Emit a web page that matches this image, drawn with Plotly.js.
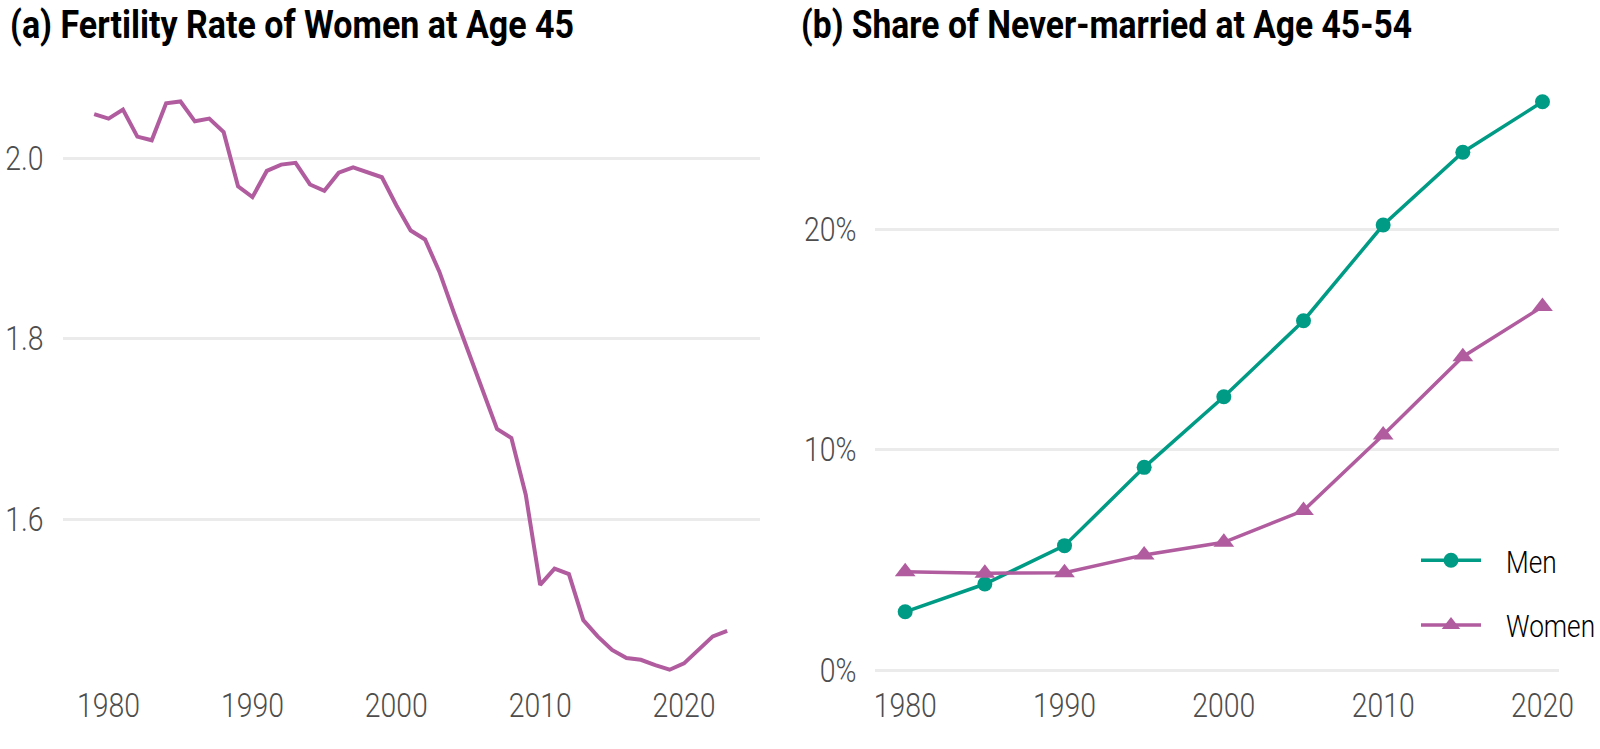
<!DOCTYPE html>
<html>
<head>
<meta charset="utf-8">
<script src="https://cdn.plot.ly/plotly-3.0.1.min.js"></script>
<style>html,body{margin:0;padding:0;background:#fff;}#chart{width:1600px;height:749px;}</style>
</head>
<body>
<div id="chart"></div>
<script>
// Panel (a): fertility rate of women at age 45
const yearsA = [1979,1980,1981,1982,1983,1984,1985,1986,1987,1988,
                1989,1990,1991,1992,1993,1994,1995,1996,1997,1998,
                1999,2000,2001,2002,2003,2004,2005,2006,2007,2008,
                2009,2010,2011,2012,2013,2014,2015,2016,2017,2018,
                2019,2020,2021,2022,2023];
const fertility = [2.049,2.044,2.054,2.024,2.020,2.061,2.063,2.041,2.044,2.029,
                   1.969,1.957,1.986,1.993,1.995,1.971,1.964,1.984,1.990,1.984,
                   1.979,1.948,1.920,1.910,1.874,1.829,1.787,1.742,1.700,1.690,
                   1.627,1.527,1.545,1.539,1.488,1.470,1.455,1.446,1.444,1.438,
                   1.433,1.440,1.455,1.470,1.476];
// Panel (b): share never married at age 45-54 (%)
const yearsB = [1980,1985,1990,1995,2000,2005,2010,2015,2020];
const menShare = [2.64,3.90,5.64,9.19,12.39,15.84,20.18,23.48,25.77];
const womenShare = [4.46,4.39,4.41,5.22,5.79,7.23,10.66,14.21,16.48];
const xTicks = [1980,1990,2000,2010,2020];
const yTicksA = [1.6,1.8,2.0];
const yTicksB = [0,10,20];
const yTickTextB = ['0%','10%','20%'];
const titleA = '(a) Fertility Rate of Women at Age 45';
const titleB = '(b) Share of Never-married at Age 45-54';

const purple = '#B05C9E';
const teal = '#009B85';
const tickFont = {family:'Roboto, "Open Sans", sans-serif', size:33, color:'#4d4d4d', weight:300};
const titleFont = {family:'Roboto, sans-serif', size:38, color:'#000', weight:'bold'};

const H = 749, W = 1600;
const yBottom = 681, yTop = 73;
const yDom = [(H-yBottom)/H, (H-yTop)/H];
// scales: panel a -> 902 px per unit with 2.0 at y=158.3; panel b -> 22.05 px per % with 0 at y=670
const rangeA = [2.0 - (yBottom-158.3)/902, 2.0 + (158.3-yTop)/902];
const rangeB = [(670-yBottom)/22.05, (670-yTop)/22.05];

const traces = [
  {x: yearsA, y: fertility, type:'scatter', mode:'lines', xaxis:'x', yaxis:'y',
   line:{color:purple, width:4}, showlegend:false},
  {x: yearsB, y: menShare, type:'scatter', mode:'lines+markers', name:'Men', xaxis:'x2', yaxis:'y2',
   line:{color:teal, width:3.5}, marker:{symbol:'circle', size:15, color:teal}, legendgroup:'m'},
  {x: yearsB, y: womenShare, type:'scatter', mode:'lines+markers', name:'Women', xaxis:'x2', yaxis:'y2',
   line:{color:purple, width:3.5}, marker:{symbol:'triangle-up', size:18, color:purple}, legendgroup:'w'}
];

const axX = (dom, rng, anchor) => ({domain:dom, range:rng, tickvals:xTicks, showgrid:false, zeroline:false,
  showline:false, ticks:'', tickfont:tickFont, ticklabelstandoff:2, anchor:anchor, fixedrange:true});
const axY = (rng, tv, anchor, extra) => Object.assign({domain:yDom, range:rng, tickvals:tv, showgrid:true,
  gridcolor:'#ebebeb', gridwidth:3, zeroline:false, showline:false, ticks:'', tickfont:tickFont,
  ticklabelstandoff:18, anchor:anchor, fixedrange:true}, extra);

const layout = {
  width:W, height:H, margin:{l:0,r:0,t:0,b:0}, paper_bgcolor:'#fff', plot_bgcolor:'#fff',
  xaxis: axX([63/W, 766/W], [1976.8, 2025.3], 'y'),
  yaxis: axY(rangeA, yTicksA, 'x', {tickformat:'.1f'}),
  xaxis2: axX([882/W, 1571/W], [1978.13, 2021.05], 'y2'),
  yaxis2: axY(rangeB, yTicksB, 'x2', {ticktext:yTickTextB, tickmode:'array'}),
  legend:{x:1427/W, y:(H-533)/H, xanchor:'left', yanchor:'top', bgcolor:'rgba(0,0,0,0)',
    font:{family:'Roboto, sans-serif', size:32, color:'#000', weight:300}, itemwidth:60, tracegroupgap:20},
  showlegend:true,
  annotations:[
    {text:titleA, xref:'paper', yref:'paper', x:8/W, y:(H-25)/H,
     xanchor:'left', yanchor:'middle', showarrow:false, font:titleFont},
    {text:titleB, xref:'paper', yref:'paper', x:805/W, y:(H-25)/H,
     xanchor:'left', yanchor:'middle', showarrow:false, font:titleFont}
  ]
};

function condense(sel, factor) {
  document.querySelectorAll(sel).forEach(t => {
    const len = t.getComputedTextLength();
    if (len > 0) {
      t.setAttribute('textLength', (len*factor).toFixed(1));
      t.setAttribute('lengthAdjust', 'spacingAndGlyphs');
    }
  });
}

Plotly.newPlot('chart', traces, layout, {displayModeBar:false, staticPlot:true}).then(() => {
  const anns = document.querySelectorAll('.annotation-text');
  const targets = [564, 611];
  anns.forEach((t, i) => {
    const orig = t.getComputedTextLength();
    const target = targets[i] || orig;
    t.setAttribute('textLength', String(target));
    t.setAttribute('lengthAdjust', 'spacingAndGlyphs');
    const x0 = parseFloat(t.getAttribute('x') || '0');
    t.setAttribute('x', String(x0 - (orig - target) / 2));
  });
  condense('.xtick text, .x2tick text, .ytick text, .y2tick text', 0.86);
  // let the legend text sit a little further from its symbol, without clipping
  document.querySelectorAll('.legend, .legend [clip-path]').forEach(e => e.removeAttribute('clip-path'));
  document.querySelectorAll('.legendtext').forEach(t => {
    const len = t.getComputedTextLength();
    t.setAttribute('textLength', (len*0.82).toFixed(1));
    t.setAttribute('lengthAdjust', 'spacingAndGlyphs');
    const x0 = parseFloat(t.getAttribute('x') || '0');
    t.setAttribute('x', String(x0 + 20));
  });
});
</script>
</body>
</html>
